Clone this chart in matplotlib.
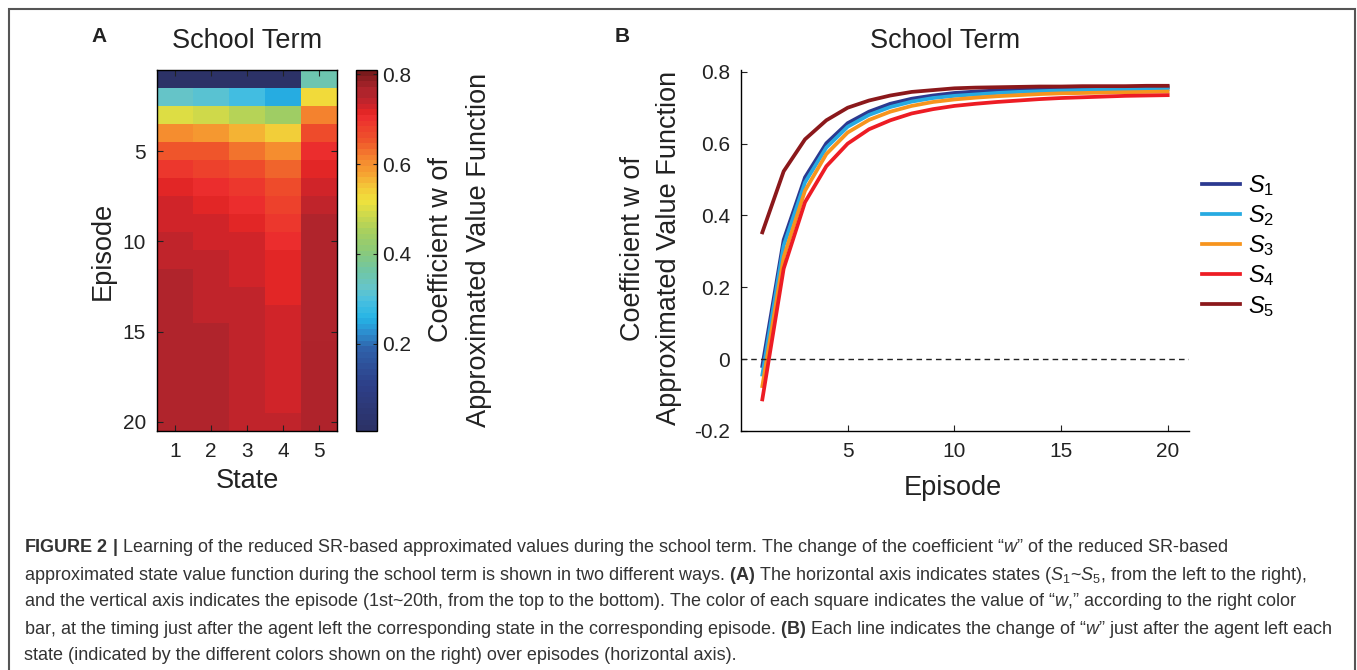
import numpy as np
import matplotlib
matplotlib.use("Agg")
import matplotlib.pyplot as plt
from matplotlib.colors import LinearSegmentedColormap
from matplotlib.patches import Rectangle

plt.rcParams['font.family'] = ['Liberation Sans', 'DejaVu Sans']
plt.rcParams['mathtext.fontset'] = 'custom'
plt.rcParams['mathtext.rm'] = 'Liberation Sans'
plt.rcParams['mathtext.it'] = 'Liberation Sans:italic'
plt.rcParams['mathtext.bf'] = 'Liberation Sans:bold'

# coefficient w after leaving each state, episodes 1..20
episodes = np.arange(1, 21)
w_s1 = [-0.019, 0.332, 0.506, 0.601, 0.657, 0.689, 0.711, 0.725, 0.734, 0.741,
        0.745, 0.748, 0.750, 0.752, 0.753, 0.754, 0.755, 0.756, 0.756, 0.757]
w_s2 = [-0.043, 0.316, 0.492, 0.589, 0.647, 0.680, 0.702, 0.717, 0.727, 0.733,
        0.737, 0.741, 0.744, 0.746, 0.748, 0.749, 0.750, 0.751, 0.752, 0.752]
w_s3 = [-0.075, 0.284, 0.469, 0.571, 0.631, 0.666, 0.689, 0.705, 0.716, 0.723,
        0.728, 0.732, 0.735, 0.738, 0.740, 0.741, 0.742, 0.743, 0.744, 0.745]
w_s4 = [-0.112, 0.252, 0.437, 0.537, 0.600, 0.640, 0.665, 0.684, 0.696, 0.705,
        0.711, 0.716, 0.720, 0.724, 0.727, 0.729, 0.731, 0.733, 0.734, 0.735]
w_s5 = [0.353, 0.523, 0.612, 0.665, 0.700, 0.720, 0.734, 0.744, 0.749, 0.754,
        0.756, 0.757, 0.758, 0.759, 0.759, 0.760, 0.760, 0.760, 0.761, 0.761]
state_labels = ['$S_1$', '$S_2$', '$S_3$', '$S_4$', '$S_5$']
state_colors = ['#2b3990', '#27aae1', '#f7941d', '#ed1c24', '#8b181b']

# printed-jet style colormap, 64 steps
jet_print = LinearSegmentedColormap.from_list('jet_print', [
    (0.00, '#2c3267'), (0.12, '#2d3f88'), (0.22, '#2f5fa8'), (0.27, '#2c8fd0'),
    (0.31, '#25b4e6'), (0.36, '#4ac0e0'), (0.40, '#68c5c6'), (0.44, '#6fc6a6'),
    (0.50, '#8cca78'), (0.55, '#a5cf60'), (0.60, '#cdd94c'), (0.64, '#f0e23c'),
    (0.68, '#f4c538'), (0.72, '#f6a031'), (0.76, '#f5842f'), (0.81, '#ef552b'),
    (0.873, '#ec2e2e'), (0.889, '#e22626'), (0.905, '#d0242a'), (0.921, '#c0242c'),
    (0.937, '#b0242c'), (0.952, '#b0242c'), (1.00, '#7a1a1c')], N=64)

fig = plt.figure(figsize=(13.57, 6.7), dpi=100)
W, H = 1357.0, 670.0

def box(x0, y0, x1, y1):
    return [x0 / W, 1 - y1 / H, (x1 - x0) / W, (y1 - y0) / H]

# outer frame
fig.add_artist(Rectangle((9 / W, -0.05), (1355 - 9) / W, 1.05 - 9 / H,
                         transform=fig.transFigure, fill=False,
                         edgecolor='#555555', linewidth=1.5))

ink = '#222222'

# ---- A: heatmap ----
grid = np.array([w_s1, w_s2, w_s3, w_s4, w_s5]).T
ax1 = fig.add_axes(box(157, 70, 337, 431))
im = ax1.imshow(grid, cmap=jet_print, vmin=0.005, vmax=0.81, aspect='auto',
                interpolation='nearest', extent=(0.5, 5.5, 20.5, 0.5))
ax1.set_xticks([1, 2, 3, 4, 5])
ax1.set_yticks([5, 10, 15, 20])
ax1.tick_params(direction='in', top=True, right=True, labelsize=15,
                length=4, width=0.8, colors=ink, pad=8)
for sp in ax1.spines.values():
    sp.set_linewidth(1.0)
ax1.set_xlabel('State', fontsize=19.5, color=ink, labelpad=5)
ax1.set_ylabel('Episode', fontsize=19.5, color=ink, labelpad=5)

cax = fig.add_axes(box(356, 70, 377, 431))
cb = fig.colorbar(im, cax=cax, ticks=[0.2, 0.4, 0.6, 0.8])
cb.ax.tick_params(direction='in', left=True, right=True, labelsize=15,
                  length=3, width=0.8, colors=ink, pad=4)
cb.outline.set_linewidth(1.0)
fig.text(460 / W, 1 - 250 / H, 'Coefficient w of\nApproximated Value Function',
         rotation=90, ha='center', va='center', fontsize=19.5, color=ink,
         multialignment='center', linespacing=1.55)

fig.text(247 / W, 1 - 41 / H, 'School Term', ha='center', va='center',
         fontsize=19.5, color=ink)
fig.text(99 / W, 1 - 37 / H, 'A', ha='center', va='center', fontsize=15,
         fontweight='bold', color=ink)

# ---- B: line plot ----
ax2 = fig.add_axes(box(741, 70, 1189, 431))
for vals, lab, col in zip([w_s1, w_s2, w_s3, w_s4, w_s5], state_labels, state_colors):
    ax2.plot(episodes, vals, color=col, linewidth=2.7, label=lab)
ax2.axhline(0, color=ink, linestyle=(0, (4, 3)), linewidth=1.0)
ax2.set_xlim(0, 21)
ax2.set_ylim(-0.2, 0.805)
ax2.set_xticks([5, 10, 15, 20])
ax2.set_yticks([-0.2, 0, 0.2, 0.4, 0.6, 0.8])
ax2.set_yticklabels(['-0.2', '0', '0.2', '0.4', '0.6', '0.8'])
ax2.spines['top'].set_visible(False)
ax2.spines['right'].set_visible(False)
ax2.spines['left'].set_linewidth(1.0)
ax2.spines['bottom'].set_linewidth(1.0)
ax2.tick_params(direction='in', labelsize=15, length=4, width=0.8,
                colors=ink, pad=8)
fig.text(953 / W, 1 - 488 / H, 'Episode', ha='center', va='center',
         fontsize=19.5, color=ink)
fig.text(651 / W, 1 - 248 / H, 'Coefficient w of\nApproximated Value Function',
         rotation=90, ha='center', va='center', fontsize=19.5, color=ink,
         multialignment='center', linespacing=1.55)
fig.text(945 / W, 1 - 41 / H, 'School Term', ha='center', va='center',
         fontsize=19.5, color=ink)
fig.text(622 / W, 1 - 37 / H, 'B', ha='center', va='center', fontsize=15,
         fontweight='bold', color=ink)
ax2.legend(loc='upper left', bbox_to_anchor=(1181 / W, 1 - 152 / H),
           bbox_transform=fig.transFigure, frameon=False, fontsize=17,
           handlelength=1.6, handletextpad=0.35, labelspacing=0.22)

# ---- caption ----
caption = [
    r'$\mathbf{FIGURE\ 2\ |}$ Learning of the reduced SR-based approximated values during the school term. '
    'The change of the coefficient “$w$” of the reduced SR-based',
    r'approximated state value function during the school term is shown in two different ways. '
    r'$\mathbf{(A)}$ The horizontal axis indicates states ($S_1$~$S_5$, from the left to the right),',
    r'and the vertical axis indicates the episode (1st~20th, from the top to the bottom). '
    'The color of each square indicates the value of “$w$,” according to the right color',
    r'bar, at the timing just after the agent left the corresponding state in the corresponding episode. '
    r'$\mathbf{(B)}$ Each line indicates the change of “$w$” just after the agent left each',
    'state (indicated by the different colors shown on the right) over episodes (horizontal axis).',
]
for i, line in enumerate(caption):
    fig.text(24 / W, 1 - (548 + 27 * i) / H, line, ha='left', va='center',
             fontsize=12.95, color='#333333')

fig.savefig('out.png', dpi=100)
